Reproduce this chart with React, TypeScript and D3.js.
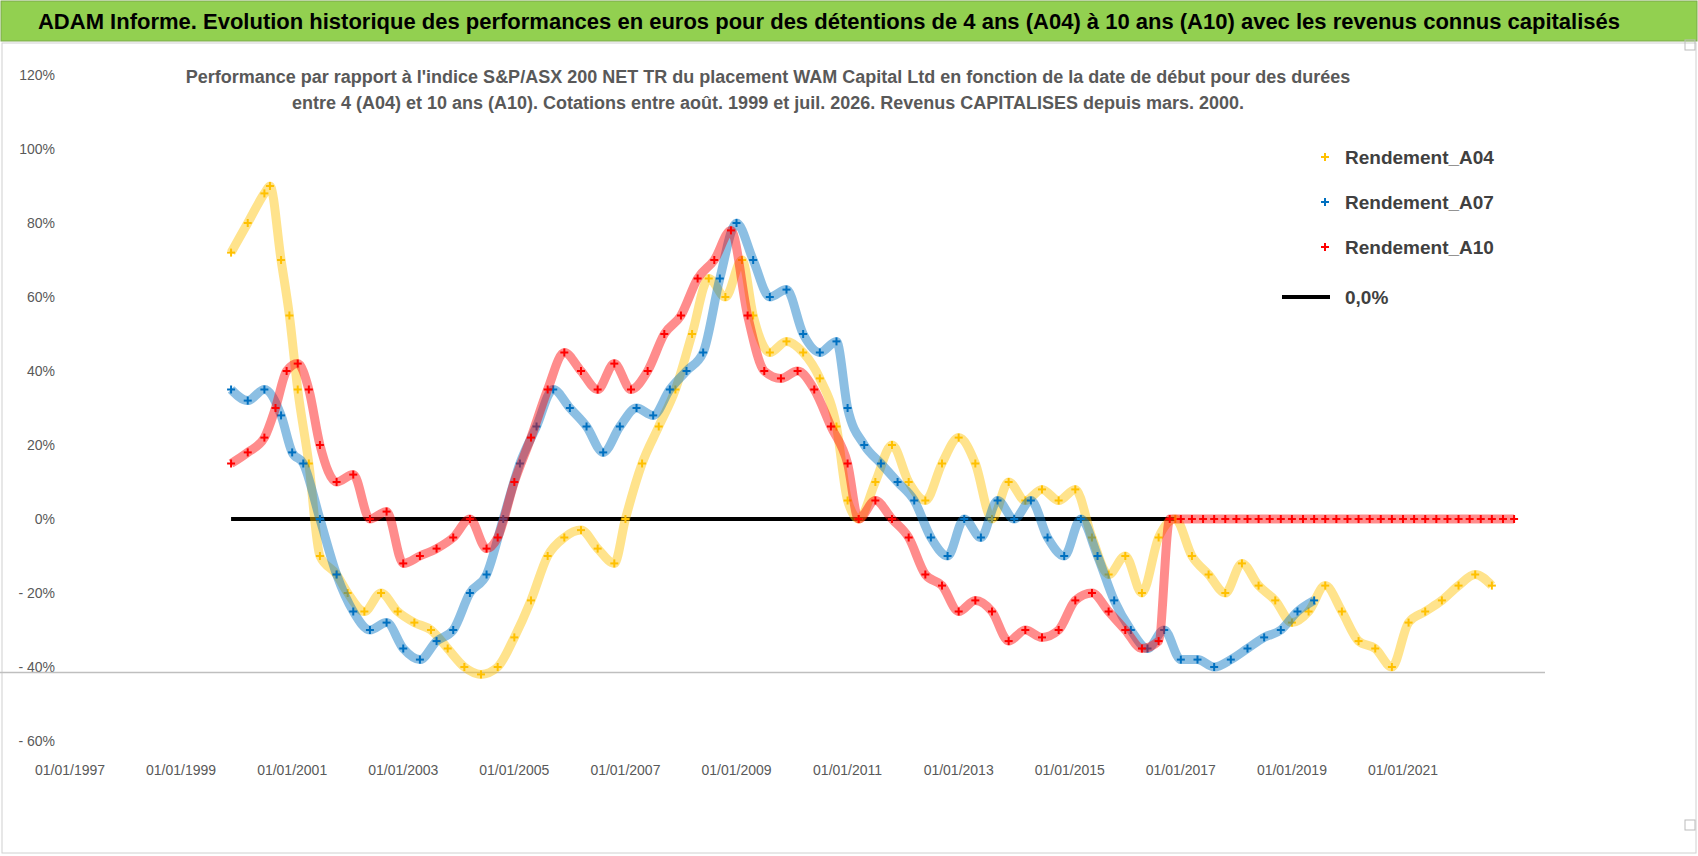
import React from 'react';
import * as d3 from 'd3';

// decimal year, performance in %
const a04Years = [1999.9, 2000.2, 2000.5, 2000.6, 2000.8, 2000.95, 2001.1, 2001.3, 2001.5, 2001.8, 2002.0, 2002.3, 2002.6, 2002.9, 2003.2, 2003.5, 2003.8, 2004.1, 2004.4, 2004.7, 2005.0, 2005.3, 2005.6, 2005.9, 2006.2, 2006.5, 2006.8, 2007.0, 2007.3, 2007.6, 2007.9, 2008.2, 2008.5, 2008.8, 2009.1, 2009.3, 2009.6, 2009.9, 2010.2, 2010.5, 2010.8, 2011.0, 2011.2, 2011.5, 2011.8, 2012.1, 2012.4, 2012.7, 2013.0, 2013.3, 2013.6, 2013.9, 2014.2, 2014.5, 2014.8, 2015.1, 2015.4, 2015.7, 2016.0, 2016.3, 2016.6, 2016.9, 2017.2, 2017.5, 2017.8, 2018.1, 2018.4, 2018.7, 2019.0, 2019.3, 2019.6, 2019.9, 2020.2, 2020.5, 2020.8, 2021.1, 2021.4, 2021.7, 2022.0, 2022.3, 2022.6];
const a04Values = [72, 80, 88, 90, 70, 55, 35, 15, -10, -15, -20, -25, -20, -25, -28, -30, -35, -40, -42, -40, -32, -22, -10, -5, -3, -8, -12, 0, 15, 25, 35, 50, 65, 60, 70, 55, 45, 48, 45, 38, 25, 5, 0, 10, 20, 10, 5, 15, 22, 15, 0, 10, 5, 8, 5, 8, -5, -15, -10, -20, -5, 0, -10, -15, -20, -12, -18, -22, -28, -25, -18, -25, -33, -35, -40, -28, -25, -22, -18, -15, -18];

const a07Years = [1999.9, 2000.2, 2000.5, 2000.8, 2001.0, 2001.2, 2001.5, 2001.8, 2002.1, 2002.4, 2002.7, 2003.0, 2003.3, 2003.6, 2003.9, 2004.2, 2004.5, 2004.8, 2005.1, 2005.4, 2005.7, 2006.0, 2006.3, 2006.6, 2006.9, 2007.2, 2007.5, 2007.8, 2008.1, 2008.4, 2008.7, 2009.0, 2009.3, 2009.6, 2009.9, 2010.2, 2010.5, 2010.8, 2011.0, 2011.3, 2011.6, 2011.9, 2012.2, 2012.5, 2012.8, 2013.1, 2013.4, 2013.7, 2014.0, 2014.3, 2014.6, 2014.9, 2015.2, 2015.5, 2015.8, 2016.1, 2016.4, 2016.7, 2017.0, 2017.3, 2017.6, 2017.9, 2018.2, 2018.5, 2018.8, 2019.1, 2019.4];
const a07Values = [35, 32, 35, 28, 18, 15, 0, -15, -25, -30, -28, -35, -38, -33, -30, -20, -15, 0, 15, 25, 35, 30, 25, 18, 25, 30, 28, 35, 40, 45, 65, 80, 70, 60, 62, 50, 45, 48, 30, 20, 15, 10, 5, -5, -10, 0, -5, 5, 0, 5, -5, -10, 0, -10, -22, -30, -35, -30, -38, -38, -40, -38, -35, -32, -30, -25, -22];

const a10Years = [1999.9, 2000.2, 2000.5, 2000.7, 2000.9, 2001.1, 2001.3, 2001.5, 2001.8, 2002.1, 2002.4, 2002.7, 2003.0, 2003.3, 2003.6, 2003.9, 2004.2, 2004.5, 2004.7, 2005.0, 2005.3, 2005.6, 2005.9, 2006.2, 2006.5, 2006.8, 2007.1, 2007.4, 2007.7, 2008.0, 2008.3, 2008.6, 2008.9, 2009.2, 2009.5, 2009.8, 2010.1, 2010.4, 2010.7, 2011.0, 2011.2, 2011.5, 2011.8, 2012.1, 2012.4, 2012.7, 2013.0, 2013.3, 2013.6, 2013.9, 2014.2, 2014.5, 2014.8, 2015.1, 2015.4, 2015.7, 2016.0, 2016.3, 2016.6,
  2016.8, 2017.0, 2017.2, 2017.4, 2017.6, 2017.8, 2018.0, 2018.2, 2018.4, 2018.6, 2018.8, 2019.0, 2019.2, 2019.4, 2019.6, 2019.8, 2020.0, 2020.2, 2020.4, 2020.6, 2020.8, 2021.0, 2021.2, 2021.4, 2021.6, 2021.8, 2022.0, 2022.2, 2022.4, 2022.6, 2022.8, 2023.0];
const a10Values = [15, 18, 22, 30, 40, 42, 35, 20, 10, 12, 0, 2, -12, -10, -8, -5, 0, -8, -5, 10, 22, 35, 45, 40, 35, 42, 35, 40, 50, 55, 65, 70, 78, 55, 40, 38, 40, 35, 25, 15, 0, 5, 0, -5, -15, -18, -25, -22, -25, -33, -30, -32, -30, -22, -20, -25, -30, -35, -33,
  0, 0, 0, 0, 0, 0, 0, 0, 0, 0, 0, 0, 0, 0, 0, 0, 0, 0, 0, 0, 0, 0, 0, 0, 0, 0, 0, 0, 0, 0, 0, 0];

const yTicks = [120, 100, 80, 60, 40, 20, 0, -20, -40, -60];
const xTickYears = [1997, 1999, 2001, 2003, 2005, 2007, 2009, 2011, 2013, 2015, 2017, 2019, 2021];
const zeroLine = [1999.9, 2016.9];
const minLine = -41.5;

const series = [
  { name: 'Rendement_A04', color: '#ffc000', years: a04Years, values: a04Values },
  { name: 'Rendement_A07', color: '#0070c0', years: a07Years, values: a07Values },
  { name: 'Rendement_A10', color: '#ff0000', years: a10Years, values: a10Values },
];

const FONT = '"Liberation Sans Narrow", "Liberation Sans", Arial, sans-serif';

export default function App() {
  const W = 1698, H = 856;
  const x = d3.scaleLinear().domain([1997, 2021]).range([70, 1403]);
  const y = d3.scaleLinear().domain([-60, 120]).range([741, 75]);
  const line = d3.line<number>().x((_, i) => 0).y(() => 0);
  void line;
  const cross = (cx: number, cy: number, c: string, k: string) => (
    <g key={k} stroke={c} strokeWidth={2}>
      <line x1={cx - 4} x2={cx + 4} y1={cy} y2={cy} />
      <line x1={cx} x2={cx} y1={cy - 4} y2={cy + 4} />
    </g>
  );
  return (
    <svg width={W} height={H} style={{ display: 'block', position: 'absolute', left: 0, top: 0 }} fontFamily={FONT}>
      <rect x={0} y={0} width={W} height={H} fill="#fff" />
      <rect x={1} y={1} width={W - 2} height={40} fill="#92d050" stroke="#7aa84a" />
      <text x={W / 2 - 20} y={29} textAnchor="middle" fontSize={22} fontWeight="bold" fill="#000">
        ADAM Informe. Evolution historique des performances en euros pour des détentions de 4 ans (A04) à 10 ans (A10) avec les revenus connus capitalisés
      </text>
      <rect x={2} y={43} width={W - 4} height={H - 46} fill="none" stroke="#d0d0d0" />
      <text x={768} y={83} textAnchor="middle" fontSize={18} fontWeight="bold" fill="#595959">
        Performance par rapport à l'indice S&amp;P/ASX 200 NET TR  du placement WAM Capital Ltd en fonction de la date de début pour des durées
      </text>
      <text x={768} y={109} textAnchor="middle" fontSize={18} fontWeight="bold" fill="#595959">
        entre 4 (A04) et 10 ans (A10).  Cotations entre août. 1999 et juil. 2026. Revenus CAPITALISES  depuis mars. 2000.
      </text>
      {yTicks.map(t => (
        <text key={t} x={55} y={y(t) + 5} textAnchor="end" fontSize={14} fill="#595959">
          {t < 0 ? `- ${-t}%` : `${t}%`}
        </text>
      ))}
      {xTickYears.map(yr => (
        <text key={yr} x={x(yr)} y={775} textAnchor="middle" fontSize={14} fill="#595959">{`01/01/${yr}`}</text>
      ))}
      <line x1={0} x2={1545} y1={y(minLine)} y2={y(minLine)} stroke="#bfbfbf" strokeWidth={1.5} />
      <line x1={x(zeroLine[0])} x2={x(zeroLine[1])} y1={y(0)} y2={y(0)} stroke="#000" strokeWidth={4} />
      {series.map(s => (
        <g key={s.name}>
          <path
            d={d3.line<number>().x((_, i) => x(s.years[i])).y(v => y(v)).curve(d3.curveMonotoneX)(s.values) || ''}
            fill="none" stroke={s.color} strokeWidth={9} strokeOpacity={0.45}
          />
          {s.values.map((v, i) => cross(x(s.years[i]), y(v), s.color, `${s.name}${i}`))}
        </g>
      ))}
      {series.map((s, i) => (
        <g key={s.name} transform={`translate(0, ${162 + i * 45})`}>
          {cross(1325, -5, s.color, 'l')}
          <text x={1345} y={2} fontSize={19} fontWeight="bold" fill="#404040">{s.name}</text>
        </g>
      ))}
      <line x1={1282} x2={1330} y1={297} y2={297} stroke="#000" strokeWidth={4} />
      <text x={1345} y={304} fontSize={19} fontWeight="bold" fill="#404040">0,0%</text>
      <rect x={1685} y={40} width={10} height={10} fill="none" stroke="#bbb" />
      <rect x={1685} y={820} width={10} height={10} fill="none" stroke="#bbb" />
    </svg>
  );
}
